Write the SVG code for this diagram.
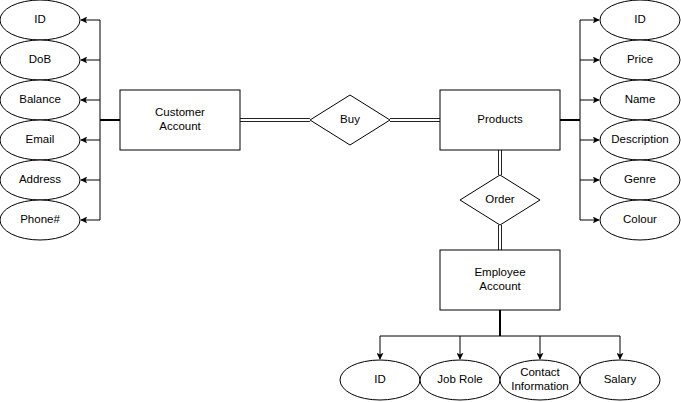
<svg xmlns="http://www.w3.org/2000/svg" width="681" height="402" viewBox="0 0 681 402">
<defs>
<marker id="arr" viewBox="0 0 10 10" refX="9" refY="5" markerWidth="7" markerHeight="7" markerUnits="userSpaceOnUse" orient="auto">
<path d="M0,0 L10,5 L0,10 L2.5,5 Z" fill="#000"/>
</marker>
<style>
.shape{fill:#fff;stroke:#000;stroke-width:1}
.t{font-family:"Liberation Sans",Arial,sans-serif;font-size:11.5px;fill:#000;text-anchor:middle;dominant-baseline:central}
.e{fill:none;stroke:#000;stroke-width:1}
.thick{fill:none;stroke:#000;stroke-width:2}
.dbl{fill:none;stroke:#222;stroke-width:1}
</style>
</defs>
<rect width="681" height="402" fill="#fff"/>
<g id="connectors">
<path class="thick" d="M120,120 H100"/>
<path class="e" d="M100,120 V20 H81" marker-end="url(#arr)"/>
<path class="e" d="M100,60 H81" marker-end="url(#arr)"/>
<path class="e" d="M100,100 H81" marker-end="url(#arr)"/>
<path class="e" d="M100,120 V220 H81" marker-end="url(#arr)"/>
<path class="e" d="M100,140 H81" marker-end="url(#arr)"/>
<path class="e" d="M100,180 H81" marker-end="url(#arr)"/>
<path class="thick" d="M560,120 H580"/>
<path class="e" d="M580,120 V20 H599" marker-end="url(#arr)"/>
<path class="e" d="M580,60 H599" marker-end="url(#arr)"/>
<path class="e" d="M580,100 H599" marker-end="url(#arr)"/>
<path class="e" d="M580,120 V220 H599" marker-end="url(#arr)"/>
<path class="e" d="M580,140 H599" marker-end="url(#arr)"/>
<path class="e" d="M580,180 H599" marker-end="url(#arr)"/>
<path class="thick" d="M500,310 V336"/>
<path class="e" d="M500,336 H380 V359" marker-end="url(#arr)"/>
<path class="e" d="M460,336 V359" marker-end="url(#arr)"/>
<path class="e" d="M500,336 H620 V359" marker-end="url(#arr)"/>
<path class="e" d="M540,336 V359" marker-end="url(#arr)"/>
<path class="dbl" d="M240,118.5 H310 M240,121.5 H310"/>
<path class="dbl" d="M390,118.5 H440 M390,121.5 H440"/>
<path class="dbl" d="M498.5,150 V175 M501.5,150 V175"/>
<path class="dbl" d="M498.5,225 V250 M501.5,225 V250"/>
</g>
<g id="customer-account"><rect class="shape" x="120" y="90" width="120" height="60"/><text class="t" x="180" y="112">Customer</text><text class="t" x="180" y="126">Account</text></g>
<g id="buy"><path class="shape" d="M350,95 L390,120 L350,145 L310,120 Z"/><text class="t" x="350" y="119">Buy</text></g>
<g id="products"><rect class="shape" x="440" y="90" width="120" height="60"/><text class="t" x="500" y="119">Products</text></g>
<g id="order"><path class="shape" d="M500,175 L540,200 L500,225 L460,200 Z"/><text class="t" x="500" y="199">Order</text></g>
<g id="employee-account"><rect class="shape" x="440" y="250" width="120" height="60"/><text class="t" x="500" y="272">Employee</text><text class="t" x="500" y="286">Account</text></g>
<g id="c-id"><ellipse class="shape" cx="40" cy="20" rx="40" ry="20"/><text class="t" x="40" y="19">ID</text></g>
<g id="c-dob"><ellipse class="shape" cx="40" cy="60" rx="40" ry="20"/><text class="t" x="40" y="59">DoB</text></g>
<g id="c-balance"><ellipse class="shape" cx="40" cy="100" rx="40" ry="20"/><text class="t" x="40" y="99">Balance</text></g>
<g id="c-email"><ellipse class="shape" cx="40" cy="140" rx="40" ry="20"/><text class="t" x="40" y="139">Email</text></g>
<g id="c-address"><ellipse class="shape" cx="40" cy="180" rx="40" ry="20"/><text class="t" x="40" y="179">Address</text></g>
<g id="c-phone"><ellipse class="shape" cx="40" cy="220" rx="40" ry="20"/><text class="t" x="40" y="219">Phone#</text></g>
<g id="p-id"><ellipse class="shape" cx="640" cy="20" rx="40" ry="20"/><text class="t" x="640" y="19">ID</text></g>
<g id="p-price"><ellipse class="shape" cx="640" cy="60" rx="40" ry="20"/><text class="t" x="640" y="59">Price</text></g>
<g id="p-name"><ellipse class="shape" cx="640" cy="100" rx="40" ry="20"/><text class="t" x="640" y="99">Name</text></g>
<g id="p-description"><ellipse class="shape" cx="640" cy="140" rx="40" ry="20"/><text class="t" x="640" y="139">Description</text></g>
<g id="p-genre"><ellipse class="shape" cx="640" cy="180" rx="40" ry="20"/><text class="t" x="640" y="179">Genre</text></g>
<g id="p-colour"><ellipse class="shape" cx="640" cy="220" rx="40" ry="20"/><text class="t" x="640" y="219">Colour</text></g>
<g id="e-id"><ellipse class="shape" cx="380" cy="380" rx="40" ry="20"/><text class="t" x="380" y="379">ID</text></g>
<g id="e-jobrole"><ellipse class="shape" cx="460" cy="380" rx="40" ry="20"/><text class="t" x="460" y="379">Job Role</text></g>
<g id="e-contact"><ellipse class="shape" cx="540" cy="380" rx="40" ry="20"/><text class="t" x="540" y="372">Contact</text><text class="t" x="540" y="386">Information</text></g>
<g id="e-salary"><ellipse class="shape" cx="620" cy="380" rx="40" ry="20"/><text class="t" x="620" y="379">Salary</text></g>
</svg>
